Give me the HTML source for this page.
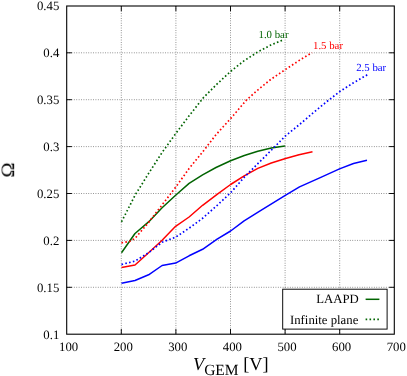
<!DOCTYPE html>
<html><head><meta charset="utf-8"><title>plot</title>
<style>
html,body{margin:0;padding:0;background:#fff;}
body{width:407px;height:376px;overflow:hidden;}
svg{display:block;}
text{font-family:"Liberation Serif",serif;fill:#000;text-rendering:geometricPrecision;}
.t{font-size:12.75px;}
.c{font-size:10.8px;}
.g{stroke:#6e6e6e;stroke-width:0.85;stroke-dasharray:0.85 1.55;fill:none;}
.k{stroke:#000;stroke-width:1.1;fill:none;}
.tk{stroke:#000;stroke-width:0.95;fill:none;}
.s{stroke-width:1.5;fill:none;stroke-linejoin:round;stroke-linecap:butt;}
.d{stroke-width:1.7;fill:none;stroke-dasharray:1.6 2.3;stroke-linejoin:round;}
</style></head><body>
<svg width="407" height="376" viewBox="0 0 407 376">
<rect width="407" height="376" fill="#fff"/><g opacity="0.999">
<line class="g" x1="121.3" y1="6.0" x2="121.3" y2="334.2"/>
<line class="g" x1="175.9" y1="6.0" x2="175.9" y2="334.2"/>
<line class="g" x1="230.5" y1="6.0" x2="230.5" y2="334.2"/>
<line class="g" x1="285.1" y1="6.0" x2="285.1" y2="334.2"/>
<line class="g" x1="339.7" y1="6.0" x2="339.7" y2="334.2"/>
<line class="g" x1="66.7" y1="287.3" x2="394.3" y2="287.3"/>
<line class="g" x1="66.7" y1="240.4" x2="394.3" y2="240.4"/>
<line class="g" x1="66.7" y1="193.5" x2="394.3" y2="193.5"/>
<line class="g" x1="66.7" y1="146.6" x2="394.3" y2="146.6"/>
<line class="g" x1="66.7" y1="99.7" x2="394.3" y2="99.7"/>
<line class="g" x1="66.7" y1="52.8" x2="394.3" y2="52.8"/>
<polyline class="s" stroke="#006400" points="121.5,252.7 135.0,233.5 148.6,221.9 162.1,207.7 175.6,195.2 189.1,183.4 202.6,174.8 216.0,167.5 230.6,160.7 244.3,155.5 257.8,151.2 271.3,147.9 284.9,145.9"/>
<polyline class="d" stroke="#006400" points="121.5,221.9 135.0,195.3 148.6,173.4 162.1,152.5 175.6,133.7 189.1,115.8 203.3,97.8 216.9,84.2 230.6,71.4 243.9,60.9 257.4,52.2 270.9,45.0 284.0,39.5"/>
<polyline class="s" stroke="#ff0000" points="121.5,267.5 135.0,265.0 148.6,252.7 162.1,240.3 175.6,226.3 189.1,217.0 202.6,205.3 217.1,194.3 230.6,184.5 244.2,175.9 257.8,168.4 271.3,163.0 285.6,158.5 299.0,154.8 312.5,151.8"/>
<polyline class="d" stroke="#ff0000" points="121.5,242.8 129.7,241.3 135.0,238.4 148.6,222.4 162.1,204.9 175.6,187.3 189.1,168.5 202.6,152.0 216.0,134.7 230.6,118.6 246.3,100.2 257.4,90.3 270.9,79.3 285.6,69.4 299.3,60.4 312.0,52.6"/>
<polyline class="s" stroke="#0000ff" points="121.5,283.2 135.0,280.5 148.6,274.8 162.1,265.5 175.6,263.1 189.1,255.8 202.6,249.3 217.1,239.2 230.6,231.0 244.1,220.8 258.9,211.7 285.7,195.2 299.5,186.9 319.7,177.9 339.5,168.9 353.5,163.5 367.0,160.3"/>
<polyline class="d" stroke="#0000ff" points="121.5,264.5 135.0,261.1 148.6,252.7 162.1,242.2 175.6,237.2 189.1,228.2 202.6,218.3 217.1,205.4 230.6,192.8 244.3,177.2 257.8,163.7 271.3,150.2 285.6,135.8 299.4,124.6 312.8,113.2 326.3,102.0 339.8,91.5 353.5,82.8 367.3,74.8"/>
<rect x="282.7" y="289.2" width="104.4" height="39.9" fill="#fff" stroke="#000" stroke-width="0.95"/>
<text class="t" x="358.7" y="303.3" text-anchor="end">LAAPD</text>
<text class="t" x="358.3" y="323.9" text-anchor="end">Infinite plane</text>
<line class="s" stroke="#006400" x1="365.6" y1="299.3" x2="379.4" y2="299.3"/>
<line class="d" stroke="#006400" x1="365.6" y1="319.3" x2="379.4" y2="319.3"/>
<text class="t" x="68.6" y="350.9" text-anchor="middle">100</text>
<line class="tk" x1="121.3" y1="334.2" x2="121.3" y2="329.0"/>
<line class="tk" x1="121.3" y1="6.0" x2="121.3" y2="11.2"/>
<text class="t" x="123.2" y="350.9" text-anchor="middle">200</text>
<line class="tk" x1="175.9" y1="334.2" x2="175.9" y2="329.0"/>
<line class="tk" x1="175.9" y1="6.0" x2="175.9" y2="11.2"/>
<text class="t" x="177.8" y="350.9" text-anchor="middle">300</text>
<line class="tk" x1="230.5" y1="334.2" x2="230.5" y2="329.0"/>
<line class="tk" x1="230.5" y1="6.0" x2="230.5" y2="11.2"/>
<text class="t" x="232.4" y="350.9" text-anchor="middle">400</text>
<line class="tk" x1="285.1" y1="334.2" x2="285.1" y2="329.0"/>
<line class="tk" x1="285.1" y1="6.0" x2="285.1" y2="11.2"/>
<text class="t" x="287.0" y="350.9" text-anchor="middle">500</text>
<line class="tk" x1="339.7" y1="334.2" x2="339.7" y2="329.0"/>
<line class="tk" x1="339.7" y1="6.0" x2="339.7" y2="11.2"/>
<text class="t" x="341.6" y="350.9" text-anchor="middle">600</text>
<text class="t" x="396.2" y="350.9" text-anchor="middle">700</text>
<text class="t" x="59.3" y="338.7" text-anchor="end">0.1</text>
<line class="tk" x1="66.7" y1="287.3" x2="71.9" y2="287.3"/>
<line class="tk" x1="394.3" y1="287.3" x2="389.1" y2="287.3"/>
<text class="t" x="59.3" y="291.8" text-anchor="end">0.15</text>
<line class="tk" x1="66.7" y1="240.4" x2="71.9" y2="240.4"/>
<line class="tk" x1="394.3" y1="240.4" x2="389.1" y2="240.4"/>
<text class="t" x="59.3" y="244.9" text-anchor="end">0.2</text>
<line class="tk" x1="66.7" y1="193.5" x2="71.9" y2="193.5"/>
<line class="tk" x1="394.3" y1="193.5" x2="389.1" y2="193.5"/>
<text class="t" x="59.3" y="198.0" text-anchor="end">0.25</text>
<line class="tk" x1="66.7" y1="146.6" x2="71.9" y2="146.6"/>
<line class="tk" x1="394.3" y1="146.6" x2="389.1" y2="146.6"/>
<text class="t" x="59.3" y="151.1" text-anchor="end">0.3</text>
<line class="tk" x1="66.7" y1="99.7" x2="71.9" y2="99.7"/>
<line class="tk" x1="394.3" y1="99.7" x2="389.1" y2="99.7"/>
<text class="t" x="59.3" y="104.2" text-anchor="end">0.35</text>
<line class="tk" x1="66.7" y1="52.8" x2="71.9" y2="52.8"/>
<line class="tk" x1="394.3" y1="52.8" x2="389.1" y2="52.8"/>
<text class="t" x="59.3" y="57.3" text-anchor="end">0.4</text>
<text class="t" x="59.3" y="10.4" text-anchor="end">0.45</text>
<rect class="k" x="66.7" y="6.0" width="327.6" height="328.2"/>
<text class="c" x="258.5" y="37.6" style="fill:#006400">1.0 bar</text>
<text class="c" x="313.0" y="48.6" style="fill:#ff0000">1.5 bar</text>
<text class="c" x="356.2" y="70.7" style="fill:#0000ff">2.5 bar</text>
<text x="0" y="0" font-size="18" text-anchor="middle" transform="translate(13.8 169.85) rotate(-90) scale(1.13 1.04)">&#937;</text>
<text x="193" y="369.8" font-size="18.3"><tspan font-style="italic">V</tspan><tspan font-size="15.5" dy="5.1">GEM</tspan><tspan dy="-5.1"> [V]</tspan></text>
</g></svg></body></html>
